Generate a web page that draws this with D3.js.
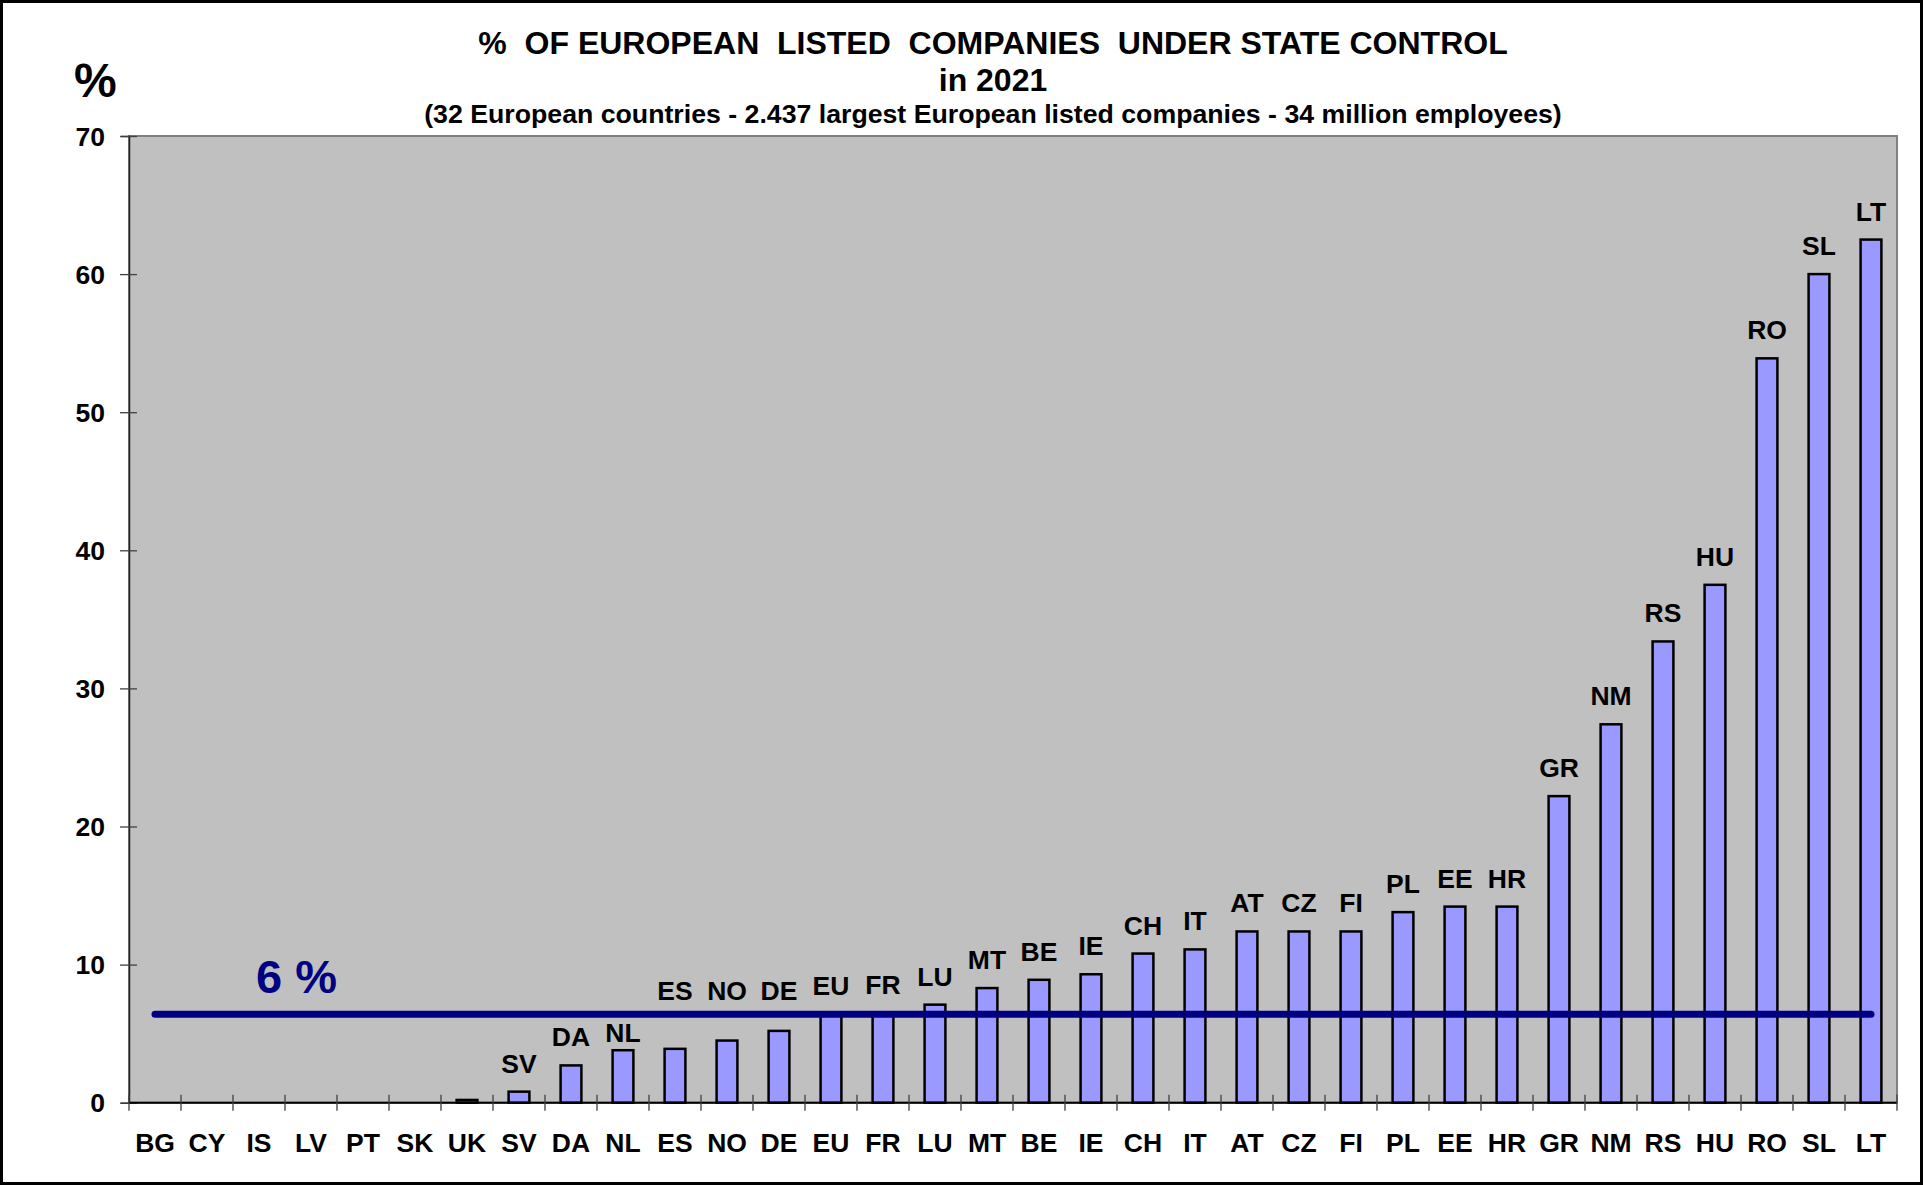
<!DOCTYPE html>
<html>
<head>
<meta charset="utf-8">
<script src="https://cdn.jsdelivr.net/npm/d3@7"></script>
<style>
  html, body { margin: 0; padding: 0; background: #ffffff; }
  svg { display: block; }
  text { font-family: Arial, "Liberation Sans", sans-serif; font-weight: bold; }
</style>
</head>
<body>
<svg id="chart" width="1923" height="1185"></svg>
<script>
// Country codes, in the order they are plotted
const countries = ["BG","CY","IS","LV","PT","SK","UK","SV","DA","NL","ES","NO","DE","EU","FR",
                   "LU","MT","BE","IE","CH","IT","AT","CZ","FI","PL","EE","HR","GR","NM","RS",
                   "HU","RO","SL","LT"];

// % of listed companies under state control, 2021
const stateShare = [0, 0, 0, 0, 0, 0, 0.2, 0.8, 2.7, 3.8, 3.9, 4.5, 5.2, 6.4, 6.5,
                    7.1, 8.3, 8.9, 9.3, 10.8, 11.1, 12.4, 12.4, 12.4, 13.8, 14.2, 14.2, 22.2, 27.4, 33.4,
                    37.5, 53.9, 60.0, 62.5];

// European average drawn as a horizontal reference line
const europeanAverage = 6.4;

const yTicks = [0, 10, 20, 30, 40, 50, 60, 70];

const titleLines = [
  "%  OF EUROPEAN  LISTED  COMPANIES  UNDER STATE CONTROL",
  "in 2021"
];
const subtitle = "(32 European countries - 2.437 largest European listed companies - 34 million employees)";
const yUnit = "%";

const W = 1923, H = 1185;
const plot = { left: 129, right: 1897, top: 136, bottom: 1102.7 };
const labelSize = 26.5;

const svg = d3.select("#chart");

// outer frame
svg.append("rect")
  .attr("x", 1.5).attr("y", 1.5)
  .attr("width", W - 3).attr("height", H - 3)
  .attr("fill", "#ffffff").attr("stroke", "#000000").attr("stroke-width", 3);

const x = d3.scaleBand().domain(countries).range([plot.left, plot.right]).padding(0);
const y = d3.scaleLinear().domain([0, 70]).range([plot.bottom, plot.top]);
const barW = x.bandwidth() * 0.4;

// plot area
svg.append("rect")
  .attr("x", plot.left).attr("y", plot.top)
  .attr("width", plot.right - plot.left).attr("height", plot.bottom - plot.top)
  .attr("fill", "#c0c0c0").attr("stroke", "#808080").attr("stroke-width", 2);

// titles
const title = svg.append("g").attr("text-anchor", "middle");
title.selectAll("text.t").data(titleLines).join("text")
  .attr("class", "t")
  .attr("x", 993)
  .attr("y", (d, i) => [54, 91][i])
  .attr("font-size", 32)
  .attr("xml:space", "preserve")
  .style("white-space", "pre")
  .text(d => d);
title.append("text")
  .attr("x", 993).attr("y", 123)
  .attr("font-size", 26.7)
  .text(subtitle);

svg.append("text")
  .attr("x", 74).attr("y", 97)
  .attr("font-size", 48)
  .text(yUnit);

// y axis
const yAxis = svg.append("g")
  .attr("transform", `translate(${plot.left},0)`)
  .call(d3.axisLeft(y).tickValues(yTicks).tickSize(8).tickPadding(16).tickFormat(d3.format("d")));
yAxis.select(".domain").attr("stroke", "#202020").attr("stroke-width", 1.5);
yAxis.selectAll(".tick line").attr("x1", 8).attr("x2", -9).attr("stroke", "#404040").attr("stroke-width", 1.3);
yAxis.selectAll(".tick text")
  .attr("font-size", labelSize).attr("font-family", null).attr("fill", "#000").attr("dy", "0.35em");

// bars
const data = countries.map((c, i) => ({ c, v: stateShare[i] }));
svg.append("g").selectAll("rect").data(data.filter(d => d.v > 0)).join("rect")
  .attr("x", d => x(d.c) + (x.bandwidth() - barW) / 2)
  .attr("y", d => y(d.v))
  .attr("width", barW)
  .attr("height", d => y(0) - y(d.v))
  .attr("fill", "#9999ff")
  .attr("stroke", "#000000")
  .attr("stroke-width", 2.5);

// x axis line and category ticks on band boundaries
svg.append("line")
  .attr("x1", plot.left).attr("x2", plot.right)
  .attr("y1", plot.bottom).attr("y2", plot.bottom)
  .attr("stroke", "#000000").attr("stroke-width", 2);
const bounds = countries.map(c => x(c)).concat([plot.right]);
svg.append("g").selectAll("line").data(bounds).join("line")
  .attr("x1", d => d).attr("x2", d => d)
  .attr("y1", plot.bottom - 8).attr("y2", plot.bottom + 8)
  .attr("stroke", "#404040").attr("stroke-width", 1.3);

const xAxis = svg.append("g")
  .attr("transform", `translate(0,${plot.bottom})`)
  .call(d3.axisBottom(x).tickSize(0).tickPadding(0));
xAxis.select(".domain").remove();
xAxis.selectAll(".tick text")
  .attr("font-size", labelSize).attr("font-family", null).attr("fill", "#000")
  .attr("dy", null).attr("y", 49);

// average line
const avgY = y(europeanAverage);
svg.append("line")
  .attr("x1", x(countries[0]) + x.bandwidth() / 2)
  .attr("x2", x(countries[countries.length - 1]) + x.bandwidth() / 2)
  .attr("y1", avgY).attr("y2", avgY)
  .attr("stroke", "#000080").attr("stroke-width", 7).attr("stroke-linecap", "round");

svg.append("text")
  .attr("x", 256).attr("y", 993)
  .attr("font-size", 47).attr("fill", "#000080")
  .text(d3.format(".0f")(europeanAverage) + " %");

// value labels (country code above each bar), moved off the average line when they would overlap it
const cap = labelSize * 0.716;
const lineHalf = 3.5;
function labelBaseline(v) {
  const top = y(v);
  const natural = top - 19;
  const capTop = natural - cap;
  const overlaps = capTop < avgY + lineHalf + 2 && natural > avgY - lineHalf - 2;
  if (!overlaps) return natural;
  if (top - avgY > 35) return Math.max(natural, avgY + lineHalf + 5 + cap);
  return Math.min(natural, avgY - 14);
}
svg.append("g").attr("text-anchor", "middle")
  .selectAll("text").data(data.filter(d => d.v >= 0.5)).join("text")
  .attr("x", d => x(d.c) + x.bandwidth() / 2)
  .attr("y", d => labelBaseline(d.v))
  .attr("font-size", labelSize)
  .text(d => d.c);
</script>
</body>
</html>
